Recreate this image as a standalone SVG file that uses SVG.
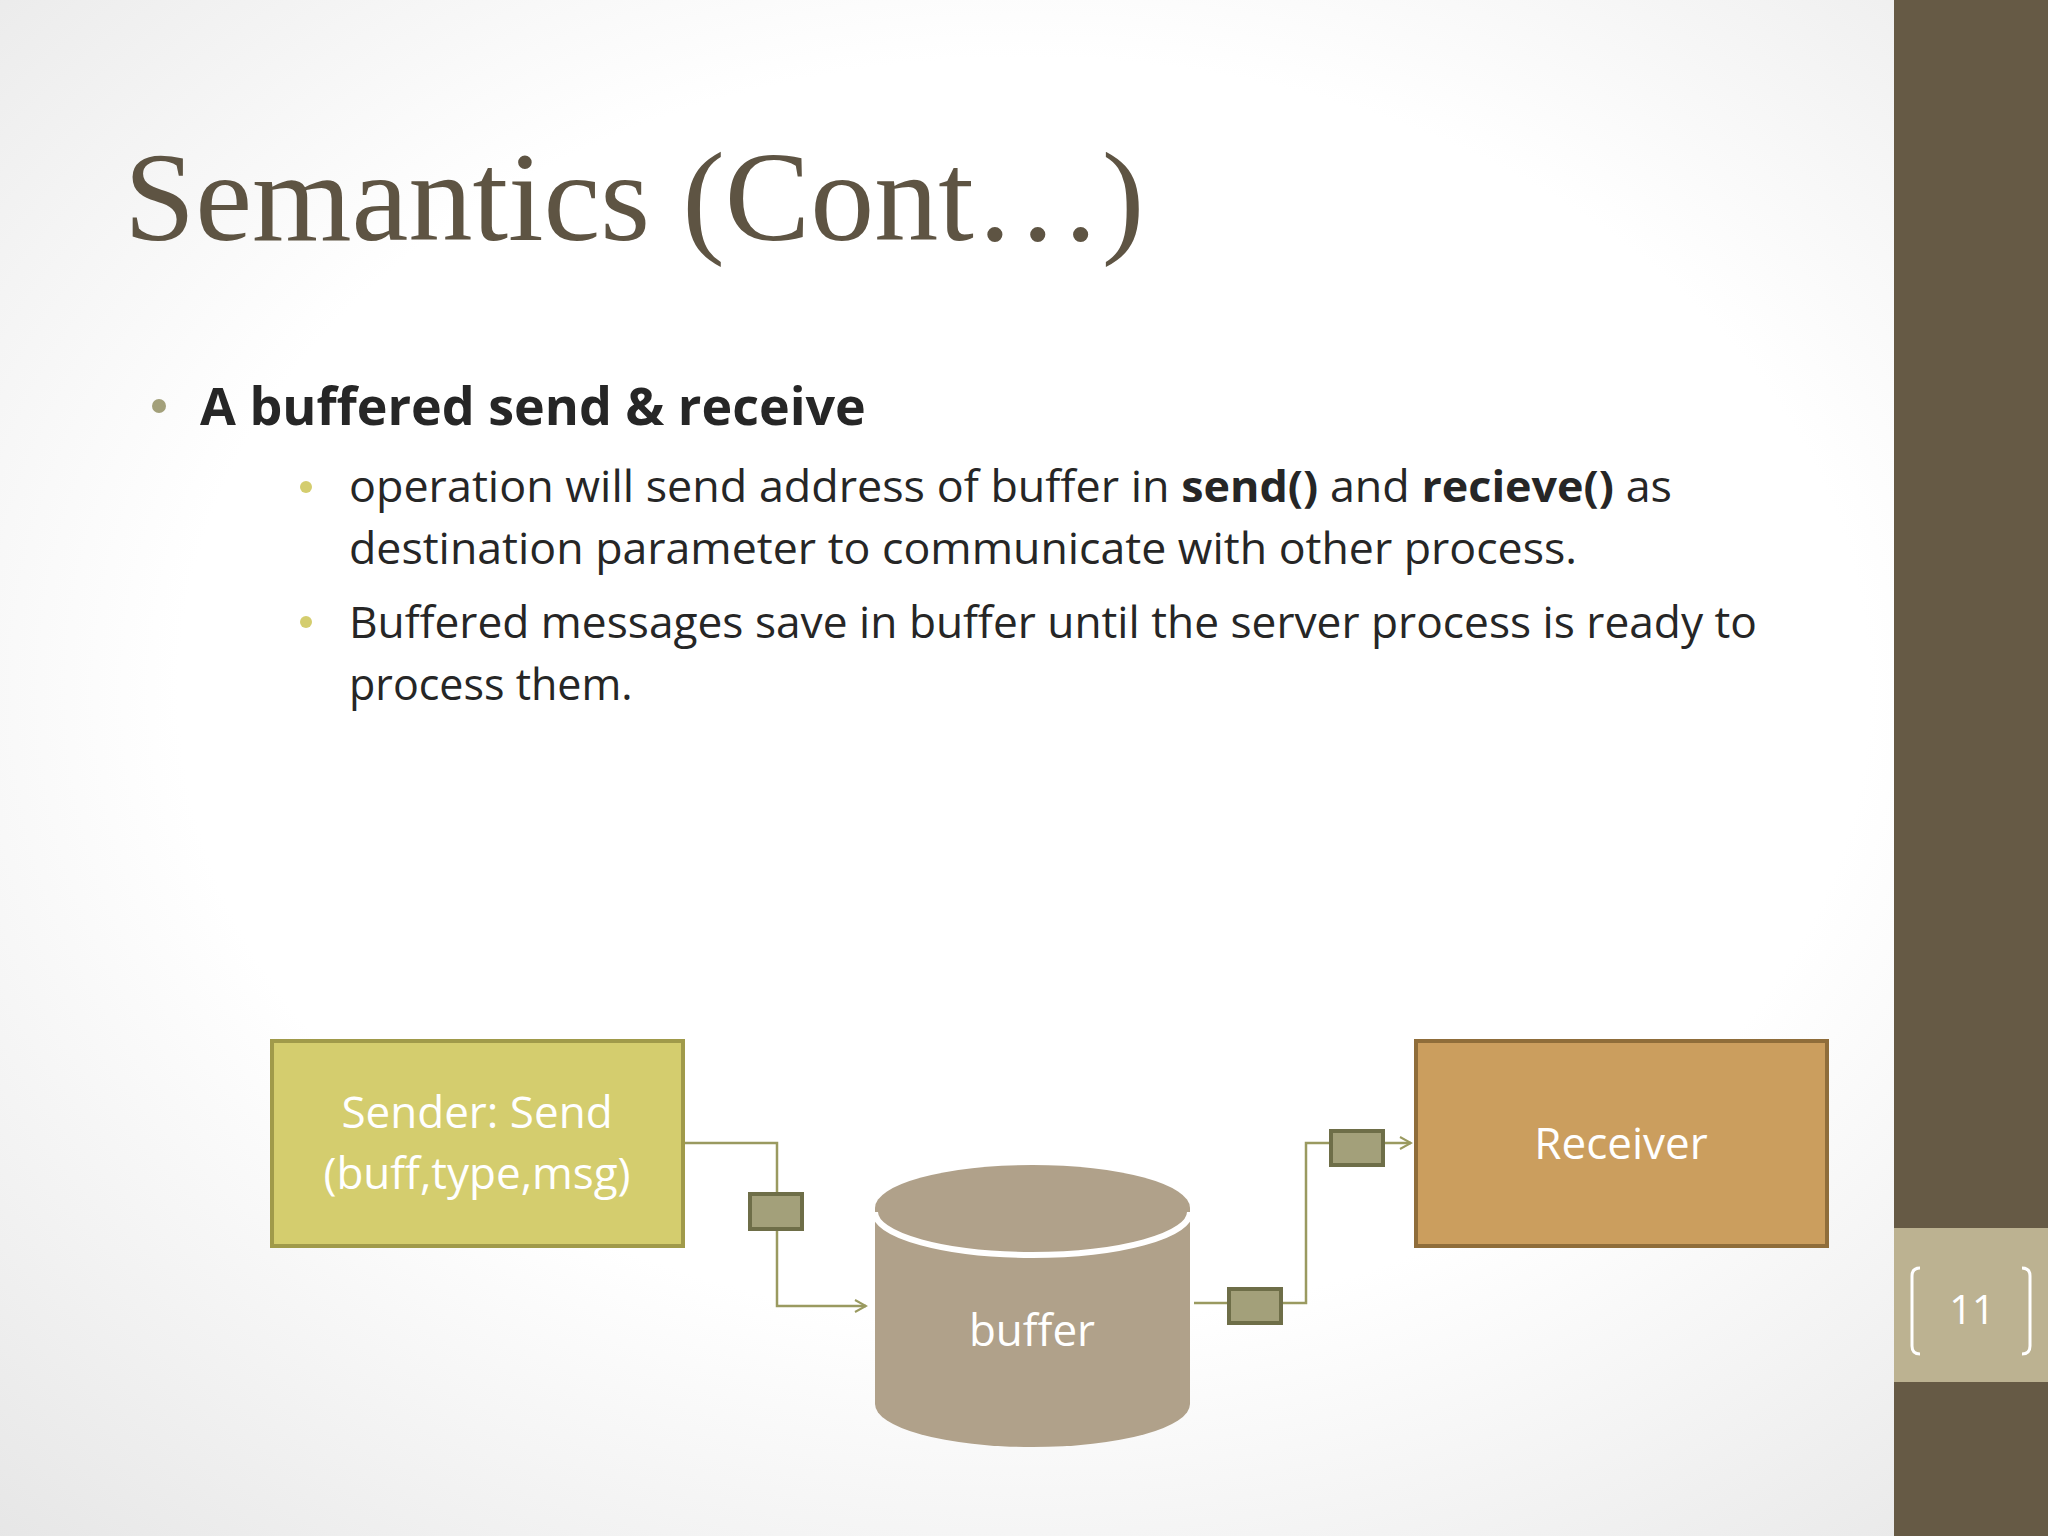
<svg xmlns="http://www.w3.org/2000/svg" width="2048" height="1536" viewBox="0 0 2048 1536">
<defs>
<radialGradient id="bg" cx="0.5" cy="0.45" r="0.75">
<stop offset="0.55" stop-color="#ffffff"/><stop offset="1" stop-color="#e6e6e6"/>
</radialGradient>
<marker id="ah" markerWidth="14" markerHeight="14" refX="12" refY="7" orient="auto" markerUnits="userSpaceOnUse">
<path d="M1,1 L12,7 L1,13" fill="none" stroke="#9a9a60" stroke-width="2"/>
</marker>
<style>
.body{font-family:"Open Sans","Liberation Sans",sans-serif;fill:#262626;font-size:43px}
.w{font-family:"Open Sans","Liberation Sans",sans-serif;fill:#ffffff;font-size:44px;text-anchor:middle}
.conn{fill:none;stroke:#9a9a60;stroke-width:2.5}
.tag{fill:#a3a07a;stroke:#6e6e48;stroke-width:4}
</style>
</defs>
<rect width="2048" height="1536" fill="url(#bg)"/>
<rect x="1894" y="0" width="154" height="1536" fill="#665a45"/>
<rect x="1894" y="1228" width="154" height="154" fill="#bcb291"/>
<path d="M1920,1268 q-8,0 -8,8 v70 q0,8 8,8 M2022,1268 q8,0 8,8 v70 q0,8 -8,8" fill="none" stroke="#fff" stroke-width="3"/>
<text x="1972" y="1324" class="w" style="font-size:40px">11</text>
<text x="124" y="240" style="font-family:'Liberation Serif',serif;font-size:128px;fill:#5e5443">Semantics (Cont…)</text>
<circle cx="159" cy="406" r="7" fill="#a3a07a"/>
<text x="200" y="425" class="body" style="font-weight:bold;font-size:52px">A buffered send &amp; receive</text>
<circle cx="306" cy="487" r="6" fill="#d4cd6e"/>
<circle cx="306" cy="622" r="6" fill="#d4cd6e"/>
<text x="349" y="502" class="body" textLength="1323" lengthAdjust="spacingAndGlyphs">operation will send address of buffer in <tspan font-weight="bold">send()</tspan>   and <tspan font-weight="bold">recieve()</tspan> as</text>
<text x="349" y="564" class="body" textLength="1228" lengthAdjust="spacingAndGlyphs">destination parameter to communicate with other process.</text>
<text x="349" y="638" class="body" textLength="1408" lengthAdjust="spacingAndGlyphs">Buffered messages save in buffer until the server process is ready to</text>
<text x="349" y="700" class="body">process them.</text>
<g id="connectors">
<path class="conn" d="M683,1143 H777 V1306 H866" marker-end="url(#ah)"/>
<path class="conn" d="M1194,1303 H1306 V1143 H1411" marker-end="url(#ah)"/>
<rect class="tag" x="750" y="1194" width="52" height="35"/>
<rect class="tag" x="1229" y="1289" width="52" height="34"/>
<rect class="tag" x="1331" y="1131" width="52" height="34"/>
</g>
<g id="sender">
<rect x="272" y="1041" width="411" height="205" fill="#d4cd6e" stroke="#a09a4a" stroke-width="4"/>
<text x="477" y="1128" class="w">Sender: Send</text>
<text x="477" y="1189" class="w">(buff,type,msg)</text>
</g>
<g id="receiver">
<rect x="1416" y="1041" width="411" height="205" fill="#cb9e5e" stroke="#8f6d3a" stroke-width="4"/>
<text x="1621" y="1159" class="w">Receiver</text>
</g>
<g id="buffer">
<path d="M875,1208 V1404 A157.5,43 0 0 0 1190,1404 V1208 Z" fill="#b0a18a"/>
<ellipse cx="1032.5" cy="1208" rx="157.5" ry="43" fill="#b0a18a"/>
<path d="M875,1212 A157.5,43 0 0 0 1190,1212" fill="none" stroke="#fff" stroke-width="6"/>
<text x="1032" y="1346" class="w">buffer</text>
</g>
</svg>
